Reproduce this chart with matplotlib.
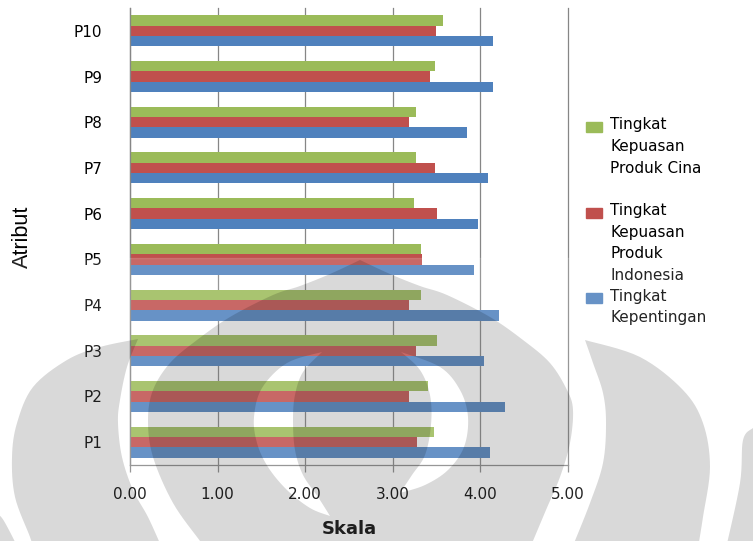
import numpy as np
import matplotlib
matplotlib.use('Agg')
import matplotlib.pyplot as plt
from matplotlib.path import Path
from matplotlib.patches import PathPatch, Rectangle

# nilai rata-rata tiap atribut
atribut = ['P1', 'P2', 'P3', 'P4', 'P5', 'P6', 'P7', 'P8', 'P9', 'P10']
kepentingan = [4.11, 4.28, 4.04, 4.21, 3.93, 3.97, 4.09, 3.85, 4.14, 4.14]
kepuasan_indonesia = [3.28, 3.18, 3.27, 3.18, 3.33, 3.50, 3.48, 3.18, 3.42, 3.49]
kepuasan_cina = [3.47, 3.40, 3.50, 3.32, 3.32, 3.24, 3.27, 3.26, 3.48, 3.57]

seri_label = ['Tingkat\nKepuasan\nProduk Cina',
              'Tingkat\nKepuasan\nProduk\nIndonesia',
              'Tingkat\nKepentingan']
warna = ['#9BBB59', '#C0504D', '#4F81BD']

W, H = 753, 541
fig = plt.figure(figsize=(W / 100, H / 100), dpi=100)
ax = fig.add_axes([130 / W, 1 - 465 / H, 438 / W, 457 / H])

y = np.arange(len(atribut))
h = 0.226
ax.barh(y + h, kepuasan_cina, height=h, color=warna[0], zorder=2)
ax.barh(y, kepuasan_indonesia, height=h, color=warna[1], zorder=2)
ax.barh(y - h, kepentingan, height=h, color=warna[2], zorder=2)

ax.set_xlim(0, 5)
ax.set_ylim(-0.5, len(atribut) - 0.5)
ax.set_xticks(np.arange(0, 5.01, 1))
ax.set_xticklabels(['%.2f' % v for v in np.arange(0, 5.01, 1)])
ax.set_yticks(y)
ax.set_yticklabels(atribut)

grid_c = '#868686'
ax.xaxis.grid(True, color=grid_c, linewidth=0.9, zorder=1)
ax.set_axisbelow(True)
for gl in ax.get_xgridlines():
    gl.set_clip_on(False)
for s in ['top', 'right']:
    ax.spines[s].set_visible(False)
for s in ['left', 'bottom']:
    ax.spines[s].set_color(grid_c)
    ax.spines[s].set_linewidth(0.9)
ax.tick_params(axis='x', length=5, width=0.9, color=grid_c, pad=11, labelsize=11)
ax.tick_params(axis='y', length=0, pad=20, labelsize=11)

ax.set_xlabel('Skala', fontsize=13, fontweight='bold')
ax.xaxis.set_label_coords(0.5, -0.12)
ax.set_ylabel('Atribut', fontsize=15.5, family=['Liberation Sans', 'DejaVu Sans'])
ax.yaxis.set_label_coords(-0.222, 0.5)

# legenda di sisi kanan
for i, (lbl, c) in enumerate(zip(seri_label, warna)):
    yc = 127 + i * 85.5
    fig.add_artist(Rectangle((586 / W, 1 - (yc + 5) / H), 16 / W, 10 / H,
                             transform=fig.transFigure, color=c))
    fig.text(610 / W, 1 - (yc - 9.5) / H, lbl, fontsize=11, va='top',
             ha='left', linespacing=1.55)


# watermark logo (abu-abu transparan)
def smooth(pts, n=8):
    p = np.asarray(pts, float)
    p = np.vstack([p[0], p, p[-1]])
    out = []
    for i in range(1, len(p) - 2):
        p0, p1, p2, p3 = p[i - 1], p[i], p[i + 1], p[i + 2]
        for t in np.linspace(0, 1, n, endpoint=False):
            out.append(0.5 * (2 * p1 + (-p0 + p2) * t
                              + (2 * p0 - 5 * p1 + 4 * p2 - p3) * t * t
                              + (-p0 + 3 * p1 - 3 * p2 + p3) * t ** 3))
    out.append(p[-2])
    return np.array(out)


def shape(*edges):
    pts = np.vstack([smooth(e) for e in edges])
    pts = np.column_stack([pts[:, 0] / W, 1 - pts[:, 1] / H])
    area = np.sum(pts[:, 0] * np.roll(pts[:, 1], -1) - np.roll(pts[:, 0], -1) * pts[:, 1])
    return pts, area


def to_path(pts, ccw=True):
    pts, area = pts
    if (area > 0) != ccw:
        pts = pts[::-1]
    codes = [Path.MOVETO] + [Path.LINETO] * (len(pts) - 1) + [Path.CLOSEPOLY]
    return Path(np.vstack([pts, pts[:1]]), codes)


sayap_kiri = shape([(138, 339), (100, 347), (67, 360), (33, 387), (17, 423), (12, 457),
                    (15, 497), (30, 537), (33, 548)],
                   [(162, 548), (148, 517), (133, 490), (122, 457), (118, 423),
                    (120, 400), (127, 367), (138, 339)])
nyala = shape([(360, 260), (330, 274), (300, 286), (273, 295), (230, 317), (197, 340),
               (170, 363), (153, 390), (148, 420), (153, 457), (173, 503), (200, 541),
               (205, 548)],
              [(530, 548), (546, 510), (560, 477), (570, 443), (573, 410), (567, 390),
               (550, 363), (523, 340), (490, 317), (447, 295), (420, 286), (390, 274),
               (360, 260)])
bulan_kiri = shape([(322, 352), (287, 363), (262, 388), (254, 417), (257, 443), (268, 467),
                    (287, 490), (310, 508), (330, 516)],
                   [(330, 516), (318, 497), (303, 475), (295, 450), (293, 420), (295, 395),
                    (303, 372), (322, 352)])
bulan_kanan = shape([(401, 352), (440, 367), (460, 390), (468, 417), (464, 447), (448, 470),
                     (425, 485), (400, 493)],
                    [(400, 493), (412, 475), (425, 455), (431, 425), (430, 395), (420, 370),
                     (401, 352)])
sayap_kanan = shape([(585, 340), (640, 357), (683, 390), (703, 423), (710, 467), (703, 517),
                     (698, 548)],
                    [(572, 548), (590, 503), (603, 463), (606, 423), (603, 393), (593, 363),
                     (585, 340)])
ujung_kanan = shape([(760, 425), (753, 428), (743, 440), (740, 483), (726, 548)],
                    [(760, 548), (760, 425)])
ujung_kiri = shape([(-5, 512), (2, 518), (10, 532), (18, 548)],
                   [(-5, 548), (-5, 512)])

fig.add_artist(Rectangle((0, 0), 1, 1 - 258 / H, transform=fig.transFigure,
                         color='white', alpha=0.14, zorder=9))
logo = Path.make_compound_path(to_path(sayap_kiri), to_path(nyala),
                               to_path(bulan_kiri, False), to_path(bulan_kanan, False),
                               to_path(sayap_kanan), to_path(ujung_kanan),
                               to_path(ujung_kiri))
fig.add_artist(PathPatch(logo, transform=fig.transFigure, facecolor='black',
                         edgecolor='none', alpha=0.15, zorder=10))

fig.savefig('out.png', dpi=100)
